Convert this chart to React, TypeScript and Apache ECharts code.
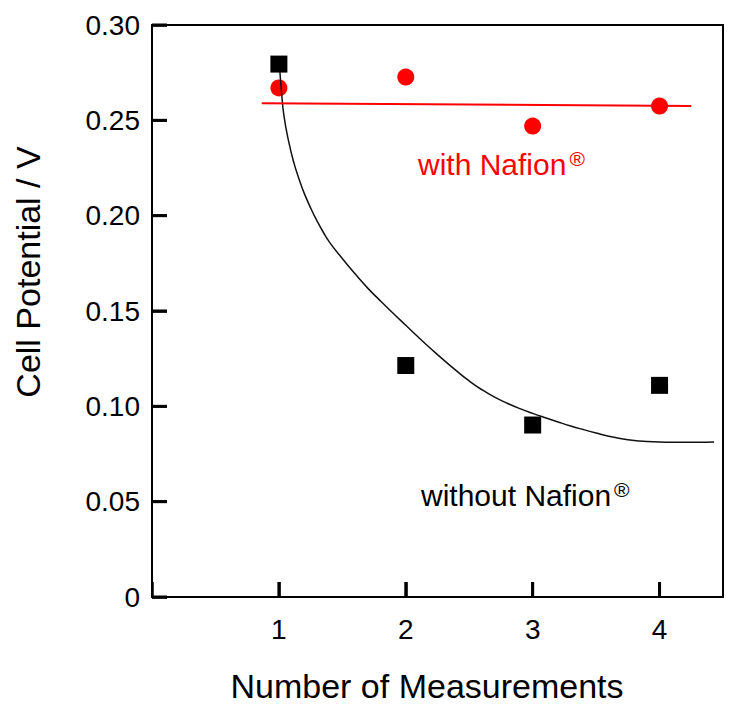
import React, { useEffect, useRef } from "react";
import * as echarts from "echarts";

const measurementTicks = [1, 2, 3, 4];
const potentialTicks = [0, 0.05, 0.1, 0.15, 0.2, 0.25, 0.3];
const withNafion = [0.267, 0.2727, 0.247, 0.2575];
const withoutNafion = [0.2795, 0.1214, 0.0902, 0.111];
const withNafionFit = [
  [0.865, 0.259],
  [4.25, 0.2575],
];
const withoutNafionFit = [
  [1.008, 0.2754],
  [1.02, 0.2655],
  [1.04, 0.2523],
  [1.08, 0.238],
  [1.12, 0.2273],
  [1.16, 0.219],
  [1.2, 0.2117],
  [1.254, 0.2035],
  [1.3, 0.1973],
  [1.35, 0.1913],
  [1.4, 0.186],
  [1.5, 0.1775],
  [1.6, 0.1695],
  [1.7, 0.162],
  [1.8, 0.1553],
  [1.9, 0.1488],
  [2.0, 0.1425],
  [2.1, 0.1362],
  [2.2, 0.1301],
  [2.3, 0.1242],
  [2.4, 0.1186],
  [2.5, 0.1133],
  [2.6, 0.1087],
  [2.7, 0.1048],
  [2.8, 0.1016],
  [2.9, 0.0988],
  [3.0, 0.0963],
  [3.1, 0.094],
  [3.2, 0.0918],
  [3.3, 0.0897],
  [3.4, 0.0878],
  [3.5, 0.086],
  [3.6, 0.0843],
  [3.7, 0.083],
  [3.8, 0.0821],
  [3.9, 0.0816],
  [4.0, 0.0813],
  [4.1, 0.0812],
  [4.2, 0.0812],
  [4.3, 0.0812],
  [4.43, 0.0813],
];
const xTitle = "Number of Measurements";
const yTitle = "Cell Potential / V";

const FONT = "'Liberation Sans', Arial, Helvetica, sans-serif";
const TICK = 15;
const X_MAX = 4.5;
const Y_MAX = 0.3;

const frameAxis = {
  min: 0,
  splitLine: { show: false },
  axisLine: { show: true, onZero: false, lineStyle: { color: "#000", width: 2 } },
  axisTick: { show: false },
  axisLabel: { show: false },
};

export default function App() {
  const ref = useRef<HTMLDivElement>(null);
  useEffect(() => {
    if (!ref.current) return;
    const chart = echarts.init(ref.current, null, { renderer: "svg" });
    chart.setOption({
      animation: false,
      backgroundColor: "#ffffff",
      textStyle: { fontFamily: FONT },
      grid: { left: 152, top: 25, right: 19, bottom: 126 },
      xAxis: [
        {
          type: "value",
          position: "bottom",
          min: 0,
          max: X_MAX,
          interval: 1,
          splitLine: { show: false },
          axisLine: { show: true, onZero: false, lineStyle: { color: "#000", width: 2 } },
          axisTick: { show: true, inside: true, length: TICK, lineStyle: { color: "#000", width: 2.5 } },
          axisLabel: {
            show: true,
            color: "#000",
            fontSize: 28,
            fontFamily: FONT,
            margin: 18,
            showMaxLabel: false,
            formatter: (v: number) => (measurementTicks.indexOf(v) >= 0 ? String(v) : ""),
          },
        },
        { ...frameAxis, type: "value", position: "top", max: X_MAX },
      ],
      yAxis: [
        {
          type: "value",
          position: "left",
          min: 0,
          max: Y_MAX,
          interval: 0.05,
          splitLine: { show: false },
          axisLine: { show: true, onZero: false, lineStyle: { color: "#000", width: 2 } },
          axisTick: { show: true, inside: true, length: TICK, lineStyle: { color: "#000", width: 2.5 } },
          axisLabel: {
            show: true,
            color: "#000",
            fontSize: 28,
            fontFamily: FONT,
            margin: 12,
            formatter: (v: number) => (Math.abs(v) < 1e-9 ? "0" : v.toFixed(2)),
          },
        },
        { ...frameAxis, type: "value", position: "right", max: Y_MAX },
      ],
      series: [
        {
          type: "scatter",
          name: "x ticks",
          data: measurementTicks.map((v) => [v, 0]),
          symbol: "rect",
          symbolSize: [3, TICK],
          symbolOffset: [0, -TICK / 2],
          itemStyle: { color: "#000", opacity: 1 },
          clip: false,
          silent: true,
          z: 5,
        },
        {
          type: "scatter",
          name: "y ticks",
          data: potentialTicks.map((v) => [0, v]),
          symbol: "rect",
          symbolSize: [TICK, 3],
          symbolOffset: [TICK / 2, 0],
          itemStyle: { color: "#000", opacity: 1 },
          clip: false,
          silent: true,
          z: 5,
        },
        {
          type: "scatter",
          name: "with Nafion",
          data: measurementTicks.map((x, i) => [x, withNafion[i]]),
          symbol: "circle",
          symbolSize: 17,
          itemStyle: { color: "#ff0000", opacity: 1 },
          z: 2,
        },
        {
          type: "scatter",
          name: "without Nafion",
          data: measurementTicks.map((x, i) => [x, withoutNafion[i]]),
          symbol: "rect",
          symbolSize: 17,
          itemStyle: { color: "#000", opacity: 1 },
          z: 2,
        },
        {
          type: "line",
          name: "without fit",
          data: withoutNafionFit,
          smooth: 0.5,
          showSymbol: false,
          symbol: "none",
          lineStyle: { color: "#111", width: 1.5 },
          z: 3,
        },
        {
          type: "line",
          name: "with fit",
          data: withNafionFit,
          showSymbol: false,
          symbol: "none",
          lineStyle: { color: "#ff0000", width: 2 },
          z: 4,
        },
      ],
      graphic: [
        {
          type: "text",
          left: 418,
          top: 148,
          style: {
            text: "{m|with Nafion}{s|®}",
            rich: {
              m: { fontSize: 30, fontFamily: FONT, fill: "#ff0000", lineHeight: 32 },
              s: { fontSize: 21, fontFamily: FONT, fill: "#ff0000", lineHeight: 32, verticalAlign: "top", padding: [0, 0, 0, 3] },
            },
          },
        },
        {
          type: "text",
          left: 421,
          top: 479,
          style: {
            text: "{m|without Nafion}{s|®}",
            rich: {
              m: { fontSize: 30, fontFamily: FONT, fill: "#000", lineHeight: 32 },
              s: { fontSize: 21, fontFamily: FONT, fill: "#000", lineHeight: 32, verticalAlign: "top", padding: [0, 0, 0, 3] },
            },
          },
        },
        {
          type: "text",
          x: 427,
          y: 686,
          style: {
            text: xTitle,
            fontSize: 34,
            fontFamily: FONT,
            fill: "#000",
            align: "center",
            verticalAlign: "middle",
          },
        },
        {
          type: "text",
          x: 28,
          y: 272,
          rotation: Math.PI / 2,
          style: {
            text: yTitle,
            fontSize: 34,
            fontFamily: FONT,
            fill: "#000",
            align: "center",
            verticalAlign: "middle",
          },
        },
      ],
    });
    return () => chart.dispose();
  }, []);
  return <div ref={ref} style={{ width: 742, height: 723, margin: -8 }} />;
}
